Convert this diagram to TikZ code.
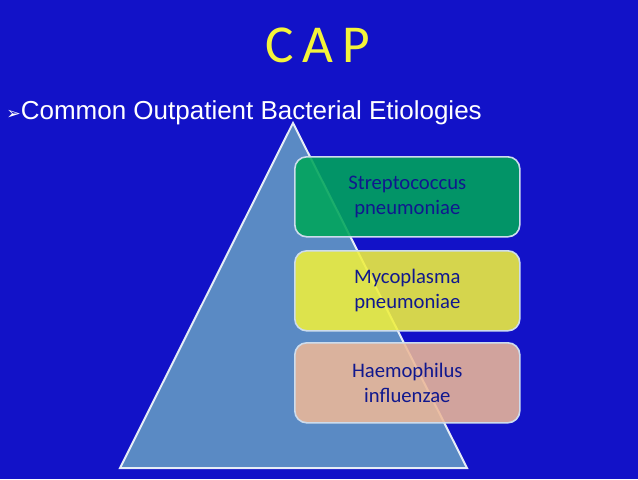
\documentclass[tikz,border=0pt]{standalone}
\usepackage{fontspec}
\setmainfont{Liberation Sans}
\newfontfamily\carl{Carlito}
\newfontfamily\dejavu{DejaVu Sans}
\definecolor{bg}{HTML}{1212C8}
\definecolor{tri}{HTML}{5A8AC4}
\definecolor{ttl}{HTML}{F4F43A}
\definecolor{boxtext}{HTML}{10188E}
\definecolor{cA}{RGB}{0,166,90}
\definecolor{cB}{RGB}{240,240,60}
\definecolor{cC}{RGB}{236,184,152}
\begin{document}
\begin{tikzpicture}[x=0.75pt,y=-0.75pt,
  lvl/.style={draw=white!70!tri,line width=1.2pt,rounded corners=9pt,fill opacity=0.88,text opacity=1,
    minimum width=168.75pt,minimum height=60pt,anchor=north west,inner sep=0pt,
    font=\carl\fontsize{15.5pt}{19pt}\selectfont,text=boxtext,align=center}]
\fill[bg] (0,0) rectangle (638,479);
\useasboundingbox (0,0) rectangle (638,479);
\node[font=\carl\fontsize{40pt}{44pt}\selectfont,text=ttl] (title) at (318,45) {C\,A\,P};
\node[anchor=west,text=white,font=\fontsize{19.5pt}{22pt}\selectfont,inner sep=0pt] (sub) at (6,113) {{\dejavu\fontsize{13pt}{14pt}\selectfont ➢}Common Outpatient Bacterial Etiologies};
\draw[fill=tri,draw=white!85!tri,line width=1.5pt] (293,123) -- (120,468) -- (467,468) -- cycle;
\node[lvl,fill=cA] (a) at (294,156) {Streptococcus\\pneumoniae};
\node[lvl,fill=cB] (b) at (294,250) {Mycoplasma\\pneumoniae};
\node[lvl,fill=cC] (c) at (294,342) {Haemophilus\\influenzae};
\end{tikzpicture}
\end{document}
